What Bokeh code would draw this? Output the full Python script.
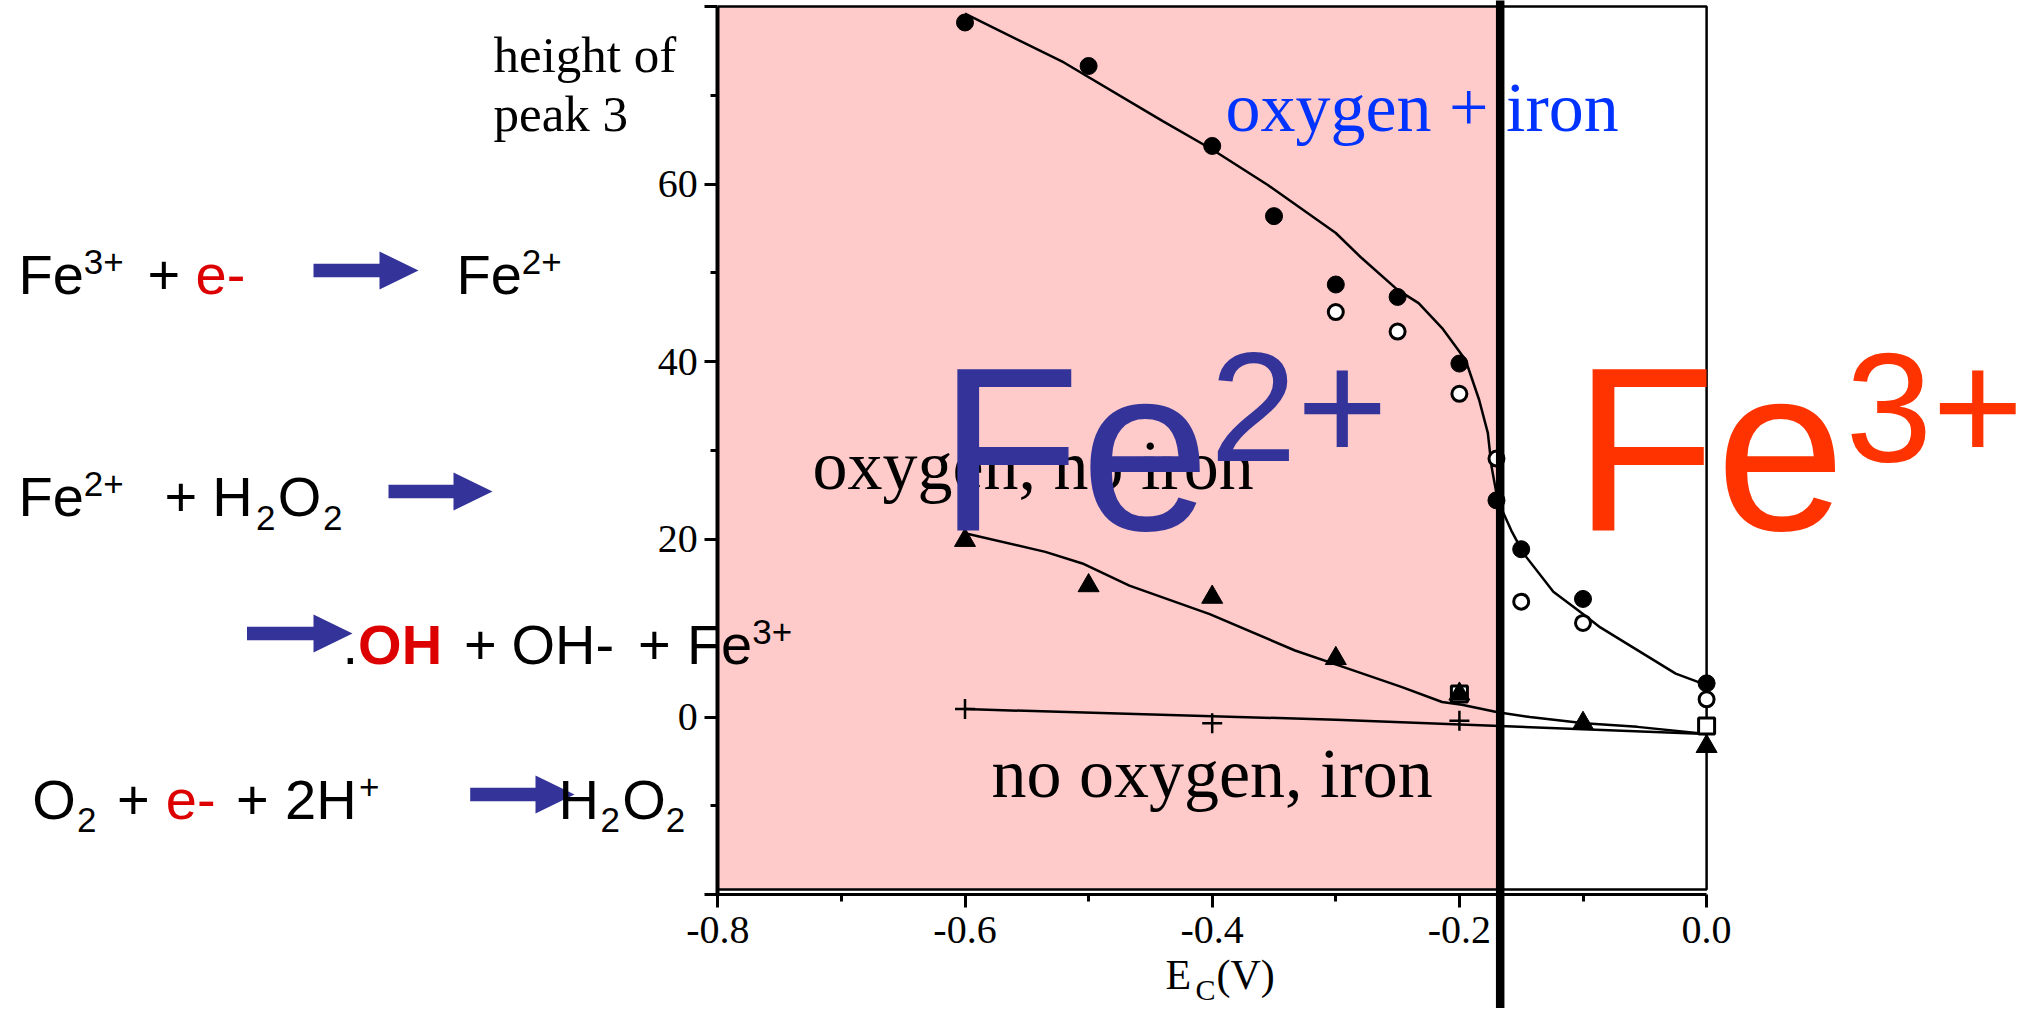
from bokeh.plotting import figure
from bokeh.models import Range1d, LinearAxis, FixedTicker, Label
from bokeh.embed import file_html
from bokeh.resources import INLINE

# ---------------- data ----------------
E_C_FILLED = [-0.6, -0.5, -0.4, -0.35, -0.3, -0.25, -0.2, -0.17, -0.15, -0.1, 0.0]
H_FILLED = [78.2, 73.3, 64.3, 56.4, 48.7, 47.3, 39.8, 24.4, 18.9, 13.3, 3.8]

E_C_OPEN = [-0.3, -0.25, -0.2, -0.17, -0.15, -0.1, 0.0]
H_OPEN = [45.6, 43.4, 36.4, 29.1, 13.0, 10.6, 2.0]

E_C_TRI = [-0.6, -0.5, -0.4, -0.3, -0.2, -0.1, 0.0]
H_TRI = [19.9, 14.8, 13.5, 6.6, 2.6, -0.7, -3.3]

E_C_PLUS = [-0.6, -0.4, -0.2]
H_PLUS = [0.9, -0.7, -0.4]

E_C_SQ = [-0.2, 0.0]
H_SQ = [2.6, -1.0]

FIT_A_X = [-0.6, -0.52, -0.44, -0.4, -0.355, -0.3, -0.28, -0.25, -0.233, -0.214,
           -0.195, -0.184, -0.177, -0.174, -0.169, -0.158, -0.148, -0.124, -0.1,
           -0.086, -0.025, 0.0]
FIT_A_Y = [79.2, 73.7, 67.1, 63.9, 59.9, 54.5, 51.8, 48.1, 46.6, 43.8, 40.2, 35.7,
           32.0, 28.2, 24.4, 21.0, 18.4, 14.1, 11.6, 10.1, 4.9, 3.6]

FIT_TRI_X = [-0.6, -0.535, -0.505, -0.467, -0.402, -0.333, -0.293, -0.247, -0.214,
             -0.198, -0.169, -0.143, -0.099, -0.056, 0.0]
FIT_TRI_Y = [20.7, 18.6, 17.3, 14.8, 11.6, 7.5, 5.6, 3.4, 1.7, 1.4, 0.55, 0.0,
             -0.7, -1.1, -1.9]

FIT_PLUS_X = [-0.6, -0.3, 0.0]
FIT_PLUS_Y = [0.9, -0.3, -1.9]

FE_BOUNDARY = -0.167          # Fe2+/Fe3+ boundary potential
X_TICKS = [-0.8, -0.6, -0.4, -0.2, 0.0]
X_TICK_LABELS = ["-0.8", "-0.6", "-0.4", "-0.2", "0.0"]
X_MINOR = [-0.7, -0.5, -0.3, -0.1]
Y_TICKS = [-20, 0, 20, 40, 60, 80]
Y_TICK_LABELS = ["", "0", "20", "40", "60", ""]
Y_MINOR = [-10, 10, 30, 50, 70]
X_MIN, X_MAX = -0.8, 0.0
Y_MIN, Y_MAX = -20, 80

# ---------------- geometry ----------------
W, H = 2031, 1008
KX = 1236.0          # px per volt
X_AT_MIN = 717.3     # page x of E = -0.8
KY = 8.8825          # px per unit
Y_AT_0 = 716.6       # page y of height = 0
XS = X_MIN - X_AT_MIN / KX
XE = XS + W / KX
YE = Y_AT_0 / KY
YS = YE - H / KY


def dx(X):
    return XS + X / KX


def dy(Y):
    return YE - Y / KY


p = figure(width=W, height=H, x_range=Range1d(XS, XE), y_range=Range1d(YS, YE),
           output_backend="svg", toolbar_location=None, x_axis_type=None,
           y_axis_type=None, min_border=0, min_border_left=0, min_border_right=0,
           min_border_top=0, min_border_bottom=0)
p.outline_line_color = None
p.background_fill_color = "white"
p.border_fill_color = "white"

SANS = "Liberation Sans"
SERIF = "Liberation Serif"

# pink Fe2+ region
frame_bottom = dy(889)
p.quad(left=[X_MIN], right=[FE_BOUNDARY], bottom=[frame_bottom], top=[Y_MAX],
       fill_color="#FECACA", line_color=None)
# frame
p.multi_line(xs=[[X_MIN, X_MAX, X_MAX, X_MIN]], ys=[[Y_MAX, Y_MAX, frame_bottom, frame_bottom]],
             line_color="black", line_width=2.5)

# fit curves
p.line(FIT_A_X, FIT_A_Y, line_color="black", line_width=2.5)
p.line(FIT_TRI_X, FIT_TRI_Y, line_color="black", line_width=2.5)
p.line(FIT_PLUS_X, FIT_PLUS_Y, line_color="black", line_width=2.5)

# markers
p.scatter(E_C_SQ, H_SQ, marker="square", size=16, fill_color="white",
          line_color="black", line_width=3)
p.scatter(E_C_FILLED, H_FILLED, marker="circle", size=17, fill_color="black",
          line_color="black")
p.scatter(E_C_OPEN, H_OPEN, marker="circle", size=15, fill_color="white",
          line_color="black", line_width=3)
p.scatter(E_C_TRI, H_TRI, marker="triangle", size=21, fill_color="black",
          line_color="black")
p.scatter(E_C_PLUS, H_PLUS, marker="cross", size=20, line_color="black",
          line_width=2.5)

# axes
xaxis = LinearAxis(fixed_location=Y_MIN, bounds=(X_MIN, X_MAX),
                   ticker=FixedTicker(ticks=X_TICKS, minor_ticks=X_MINOR))
xaxis.major_label_overrides = {(int(t) if float(t).is_integer() else t): l
                               for t, l in zip(X_TICKS, X_TICK_LABELS)}
yaxis = LinearAxis(fixed_location=X_MIN, bounds=(Y_MIN, Y_MAX),
                   ticker=FixedTicker(ticks=Y_TICKS, minor_ticks=Y_MINOR))
yaxis.major_label_overrides = {t: l for t, l in zip(Y_TICKS, Y_TICK_LABELS)}
for ax, lw in ((xaxis, 3), (yaxis, 4)):
    ax.axis_line_width = lw
    ax.axis_line_color = "black"
    ax.major_tick_line_width = 3
    ax.minor_tick_line_width = 3
    ax.major_tick_out = 13
    ax.major_tick_in = 0
    ax.minor_tick_out = 7
    ax.minor_tick_in = 0
    ax.major_label_text_font = SERIF
    ax.major_label_text_font_size = "40px"
    ax.major_label_text_color = "black"
xaxis.major_label_standoff = 9
yaxis.major_label_standoff = 7
p.add_layout(xaxis, "below")
p.add_layout(yaxis, "left")

# Label anchors its text box centre at y; shift so that Y is the baseline
K_SANS, K_SERIF = 0.373, 0.36


def add_text(X, Y, text, size, color="black", font=SANS, style="normal"):
    k = K_SANS if font == SANS else K_SERIF
    p.add_layout(Label(x=dx(X), y=dy(Y - k * size), text=text, text_font=font,
                       text_font_size=f"{size}px", text_color=color,
                       text_font_style=style, text_baseline="alphabetic",
                       text_align="left"))


RED = "#DD0000"
BLUE_DARK = "#333399"
MAIN, SMALL = 56, 35

# row 1: Fe3+ + e- -> Fe2+
add_text(18, 295, "Fe", MAIN)
add_text(83.3, 275, "3+", SMALL)
add_text(147, 295, "+", MAIN)
add_text(195, 295, "e-", MAIN, RED)
add_text(456, 295, "Fe", MAIN)
add_text(521.2, 275, "2+", SMALL)
# row 2: Fe2+ + H2O2
add_text(18, 517, "Fe", MAIN)
add_text(83.3, 497, "2+", SMALL)
add_text(164, 517, "+", MAIN)
add_text(211.7, 517, "H", MAIN)
add_text(255.6, 531, "2", SMALL)
add_text(277.3, 517, "O", MAIN)
add_text(322.6, 531, "2", SMALL)
# row 3: .OH + OH- + Fe3+
add_text(342, 665, ".", MAIN)
add_text(357.6, 665, "OH", MAIN, RED, style="bold")
add_text(463.6, 665, "+", MAIN)
add_text(511, 665, "OH-", MAIN)
add_text(637.6, 665, "+", MAIN)
add_text(686.4, 665, "Fe", MAIN)
add_text(751.7, 645, "3+", SMALL)
# row 4: O2 + e- + 2H+ -> H2O2
add_text(31.7, 820, "O", MAIN)
add_text(76.6, 833, "2", SMALL)
add_text(116.4, 820, "+", MAIN)
add_text(165.3, 820, "e-", MAIN, RED)
add_text(235.6, 820, "+", MAIN)
add_text(284.6, 820, "2H", MAIN)
add_text(358.4, 800, "+", SMALL)
add_text(558, 820, "H", MAIN)
add_text(600, 833, "2", SMALL)
add_text(621.7, 820, "O", MAIN)
add_text(665.3, 833, "2", SMALL)

# block arrows
arrows = [(313, 418, 270), (388, 492, 491), (246.5, 352, 633), (469.7, 574, 794)]
axs, ays = [], []
for x0, xt, yc in arrows:
    hb = xt - 39
    pts = [(x0, yc - 6.75), (hb, yc - 6.75), (hb, yc - 19), (xt, yc),
           (hb, yc + 19), (hb, yc + 6.75), (x0, yc + 6.75)]
    axs.append([dx(a) for a, b in pts])
    ays.append([dy(b) for a, b in pts])
p.patches(axs, ays, fill_color=BLUE_DARK, line_color=None)

# chart annotations
add_text(493, 72.7, "height of", 51, font=SERIF)
add_text(493, 131.7, "peak 3", 51, font=SERIF)
add_text(1225, 131.7, "oxygen + iron", 70, "#0033FF", font=SERIF)
add_text(812, 490, "oxygen, no iron", 70, font=SERIF)
add_text(991, 798, "no oxygen, iron", 70, font=SERIF)
add_text(1165, 990, "E", 42, font=SERIF)
add_text(1195, 1000, "C", 30, font=SERIF)
add_text(1216, 990, "(V)", 42, font=SERIF)

# big ion labels
add_text(937.7, 535, "Fe", 233, BLUE_DARK)
add_text(1209.6, 465, "2+", 156, BLUE_DARK)
add_text(1573, 535, "Fe", 233, "#FF3300")
add_text(1845, 465, "3+", 156, "#FF3300")

# boundary line
vl = p.segment(x0=[FE_BOUNDARY], y0=[YS], x1=[FE_BOUNDARY], y1=[YE],
               line_color="black", line_width=8.5)
vl.level = "overlay"

open("out.html", "w").write(file_html(p, INLINE))
